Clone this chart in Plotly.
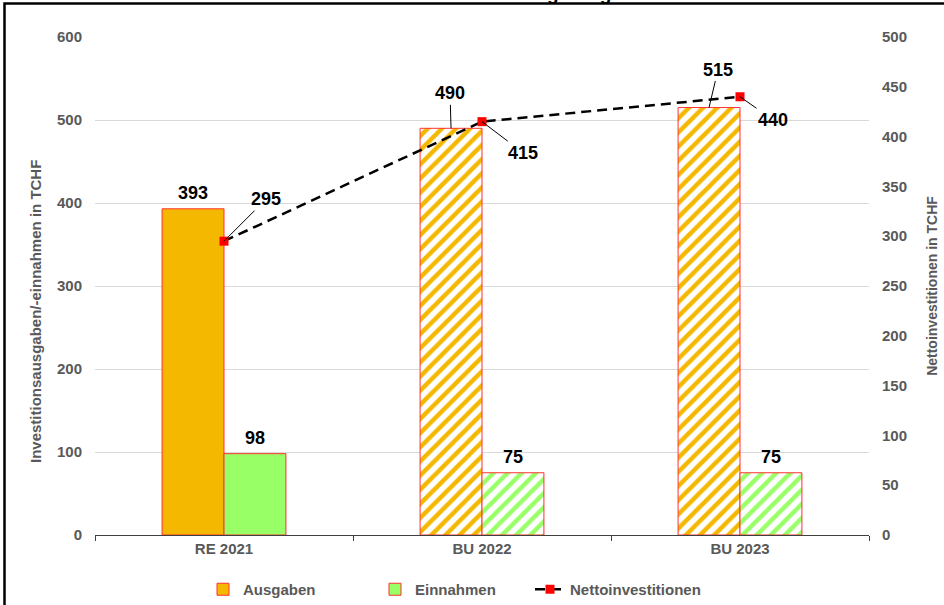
import plotly.graph_objects as go

# --- data -------------------------------------------------------------
categories = ["RE 2021", "BU 2022", "BU 2023"]
ausgaben = [393, 490, 515]
einnahmen = [98, 75, 75]
netto = [295, 415, 440]
left_ticks = [0, 100, 200, 300, 400, 500, 600]
right_ticks = [0, 50, 100, 150, 200, 250, 300, 350, 400, 450, 500]

# --- styling ----------------------------------------------------------
W, H = 944, 605
ML, MR, MT, MB = 95, 75, 37, 70
PW, PH = W - ML - MR, H - MT - MB
FONT = "Liberation Sans, Arial, sans-serif"
GREY = "#595959"
ORANGE = "#F5B800"
GREEN = "#99FF66"
RED = "#FF3030"
BAR_W = 0.24

xs = list(range(len(categories)))
x_aus = [x - BAR_W / 2 for x in xs]
x_ein = [x + BAR_W / 2 for x in xs]
fill_shape = ["", "/", "/"]


def px_x(p):
    return (p - ML) / PW


def px_y(p):
    return (H - MB - p) / PH


fig = go.Figure()

fig.add_trace(go.Bar(
    name="Ausgaben", x=x_aus, y=ausgaben, width=BAR_W, legend="legend",
    marker=dict(color=ORANGE, line=dict(color=RED, width=1),
                pattern=dict(shape=fill_shape, fillmode="replace",
                             fgcolor=ORANGE, bgcolor="white",
                             size=10, solidity=0.45)),
    hoverinfo="skip",
))
fig.add_trace(go.Bar(
    name="Einnahmen", x=x_ein, y=einnahmen, width=BAR_W, legend="legend2",
    marker=dict(color=GREEN, line=dict(color=RED, width=1),
                pattern=dict(shape=fill_shape, fillmode="replace",
                             fgcolor=GREEN, bgcolor="white",
                             size=10, solidity=0.45)),
    hoverinfo="skip",
))
fig.add_trace(go.Scatter(
    name="Nettoinvestitionen", x=xs, y=netto, yaxis="y2", legend="legend3",
    mode="lines+markers",
    line=dict(color="black", width=2.5, dash="10px,6px"),
    marker=dict(symbol="square", size=9, color="red"),
    hoverinfo="skip",
))

annotations = []
label_font = dict(family=FONT, size=18, color="black", weight="bold")

# value labels: plain ones sit just above the bar
plain = [("aus", 0), ("ein", 0), ("ein", 1), ("ein", 2)]
for kind, i in plain:
    xv = x_aus[i] if kind == "aus" else x_ein[i]
    yv = ausgaben[i] if kind == "aus" else einnahmen[i]
    annotations.append(dict(x=xv, y=yv, xref="x", yref="y", text=str(yv),
                            showarrow=False, yanchor="middle", yshift=16,
                            font=label_font))

# value labels with leader lines
lead = dict(showarrow=True, arrowhead=0, arrowwidth=1, arrowcolor="black",
            standoff=0, startstandoff=0, font=label_font)
annotations.append(dict(x=x_aus[1], y=ausgaben[1], xref="x", yref="y",
                        text=str(ausgaben[1]), ax=-1, ay=-35, **lead))
annotations.append(dict(x=x_aus[2], y=ausgaben[2], xref="x", yref="y",
                        text=str(ausgaben[2]), ax=9, ay=-38, **lead))
annotations.append(dict(x=xs[0], y=netto[0], xref="x", yref="y2",
                        text=str(netto[0]), ax=42, ay=-42, **lead))
annotations.append(dict(x=xs[1], y=netto[1], xref="x", yref="y2",
                        text=str(netto[1]), ax=41, ay=31, **lead))
annotations.append(dict(x=xs[2], y=netto[2], xref="x", yref="y2",
                        text=str(netto[2]), ax=33, ay=23, **lead))

# left axis title, set a little below the plot's middle
annotations.append(dict(xref="paper", yref="paper", x=px_x(35), y=px_y(312),
                        xanchor="center", yanchor="middle", showarrow=False,
                        textangle=-90,
                        text="Investitionsausgaben/-einnahmen in TCHF",
                        font=dict(family=FONT, size=15, color=GREY, weight="bold")))

boundaries = [-0.5, 0.5, 1.5, 2.5]
tick_font = dict(family=FONT, size=15, color=GREY, weight="bold")
title_font = dict(family=FONT, size=14, color=GREY, weight="bold")
legend_font = dict(family=FONT, size=15, color=GREY, weight="bold")


def legend_at(px_left):
    return dict(orientation="h", x=px_x(px_left), xanchor="left", y=px_y(573),
                yanchor="top", font=legend_font, itemwidth=30,
                bgcolor="rgba(0,0,0,0)")


fig.update_layout(
    width=W, height=H,
    margin=dict(l=ML, r=MR, t=MT, b=MB, autoexpand=False),
    paper_bgcolor="white", plot_bgcolor="white",
    font=dict(family=FONT, color=GREY),
    # heading: its baseline sits on the page's top edge
    title=dict(text="Investitionen langfristig", xref="paper", yref="container",
               x=px_x(397), xanchor="left", y=1, yanchor="bottom",
               font=dict(family=FONT, size=19, color="black", weight="bold")),
    barmode="overlay",
    showlegend=True,
    legend=legend_at(203),
    legend2=legend_at(375),
    legend3=legend_at(530),
    xaxis=dict(range=[-0.5, 2.5], tickvals=xs, ticktext=categories,
               ticks="", showgrid=False, zeroline=False,
               showline=True, linecolor="#404040", linewidth=1,
               tickfont=tick_font,
               minor=dict(tickvals=boundaries, ticks="outside", ticklen=5,
                          tickcolor="#404040", tickwidth=1)),
    xaxis2=dict(overlaying="x", anchor="y", side="bottom", range=[-0.5, 2.5],
                tickvals=boundaries, ticks="inside", ticklen=6, tickcolor="#404040",
                tickwidth=1, showticklabels=False, showgrid=False, zeroline=False,
                showline=False),
    yaxis=dict(range=[0, 600], tickvals=left_ticks,
               showgrid=True, gridcolor="#D9D9D9", gridwidth=1, zeroline=False,
               showline=False, ticks="", ticklabelstandoff=12,
               tickfont=tick_font),
    yaxis2=dict(range=[0, 500], tickvals=right_ticks,
                overlaying="y", side="right", showgrid=False, zeroline=False,
                showline=False, ticks="", ticklabelstandoff=12,
                tickfont=tick_font,
                title=dict(text="Nettoinvestitionen in TCHF",
                           font=title_font, standoff=21)),
    annotations=annotations,
    shapes=[dict(type="rect", xref="paper", yref="paper", layer="above",
                 x0=px_x(4.5), x1=px_x(W + 20), y0=px_y(H + 20), y1=px_y(3.5),
                 line=dict(color="black", width=2.5), fillcolor="rgba(0,0,0,0)")],
)

fig.write_html("out.html")
